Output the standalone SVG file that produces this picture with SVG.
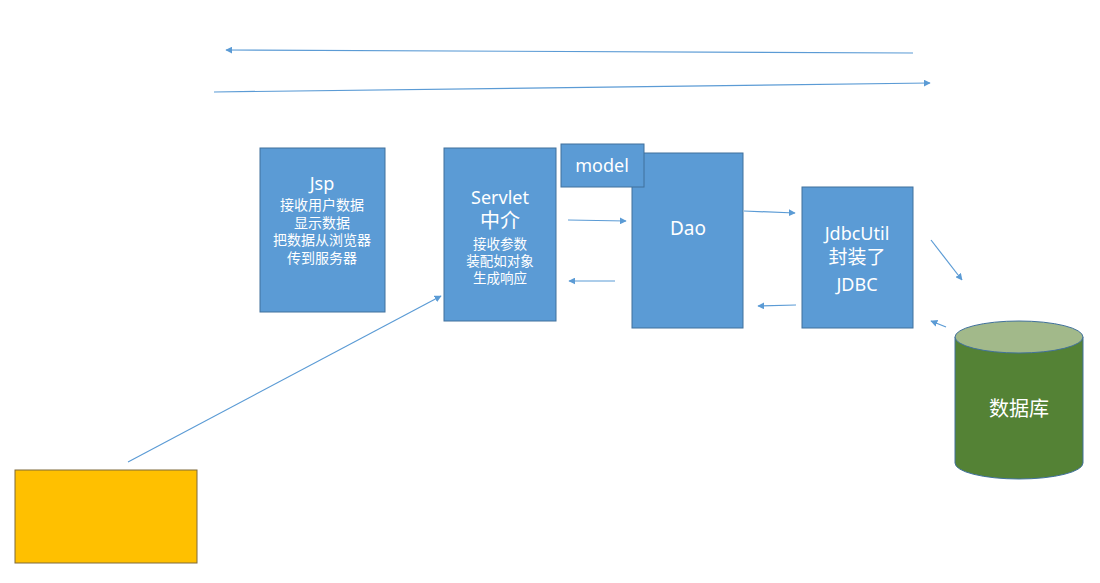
<svg xmlns="http://www.w3.org/2000/svg" width="1100" height="583" viewBox="0 0 1100 583">
<style>
.box{fill:#5b9bd5;stroke:#41719c;stroke-width:1}
.t{fill:#ffffff;font-family:"Noto Sans","Noto Sans CJK SC",sans-serif;text-anchor:middle}
.c{stroke:#5b9bd5;stroke-width:1.2;fill:none;marker-end:url(#ah)}
</style>
<defs>
<marker id="ah" viewBox="0 0 10 10" refX="9" refY="5" markerWidth="7" markerHeight="7" orient="auto" markerUnits="userSpaceOnUse">
<path d="M0,0 L10,5 L0,10 z" fill="#5b9bd5"/>
</marker>
</defs>
<rect width="1100" height="583" fill="#ffffff"/>
<g id="connectors">
<line class="c" x1="913" y1="53" x2="226" y2="50"/>
<line class="c" x1="214" y1="92" x2="930" y2="83"/>
<line class="c" x1="128" y1="462" x2="441" y2="296"/>
<line class="c" x1="568" y1="220" x2="626" y2="221"/>
<line class="c" x1="615" y1="281" x2="569" y2="281"/>
<line class="c" x1="744" y1="211" x2="795" y2="213"/>
<line class="c" x1="796" y1="305" x2="758" y2="306"/>
<line class="c" x1="931" y1="240" x2="962" y2="280"/>
<line class="c" x1="946" y1="327" x2="931" y2="321"/>
</g>
<g id="jsp">
<rect class="box" x="260" y="148" width="125" height="164"/>
<text class="t" x="322" y="190" font-size="18">Jsp</text>
<text class="t" x="322" y="210" font-size="14">接收用户数据</text>
<text class="t" x="322" y="227.5" font-size="14">显示数据</text>
<text class="t" x="322" y="245" font-size="14">把数据从浏览器</text>
<text class="t" x="322" y="262.5" font-size="14">传到服务器</text>
</g>
<g id="servlet">
<rect class="box" x="444" y="148" width="112" height="173"/>
<text class="t" x="500" y="204" font-size="18">Servlet</text>
<text class="t" x="500" y="228" font-size="20">中介</text>
<text class="t" x="500" y="249" font-size="13.5">接收参数</text>
<text class="t" x="500" y="266" font-size="13.5">装配如对象</text>
<text class="t" x="500" y="283" font-size="13.5">生成响应</text>
</g>
<g id="dao">
<rect class="box" x="632" y="153" width="111" height="175"/>
<text class="t" x="688" y="235" font-size="19">Dao</text>
</g>
<g id="model">
<rect class="box" x="561" y="144" width="83" height="43"/>
<text class="t" x="602" y="172" font-size="18">model</text>
</g>
<g id="jdbcutil">
<rect class="box" x="802" y="187" width="111" height="141"/>
<text class="t" x="857" y="240" font-size="18">JdbcUtil</text>
<text class="t" x="857" y="264" font-size="19">封装了</text>
<text class="t" x="857" y="291" font-size="18">JDBC</text>
</g>
<g id="database">
<path d="M955,337 L955,463 A64,16 0 0 0 1083,463 L1083,337 Z" fill="#548235" stroke="#41719c" stroke-width="1"/>
<ellipse cx="1019" cy="337" rx="64" ry="16" fill="#a2b98a" stroke="#41719c" stroke-width="1"/>
<text class="t" x="1019" y="416" font-size="20">数据库</text>
</g>
<g id="client">
<rect x="15" y="470" width="182" height="93" fill="#ffc000" stroke="#7f6a3a" stroke-width="1"/>
</g>
</svg>
